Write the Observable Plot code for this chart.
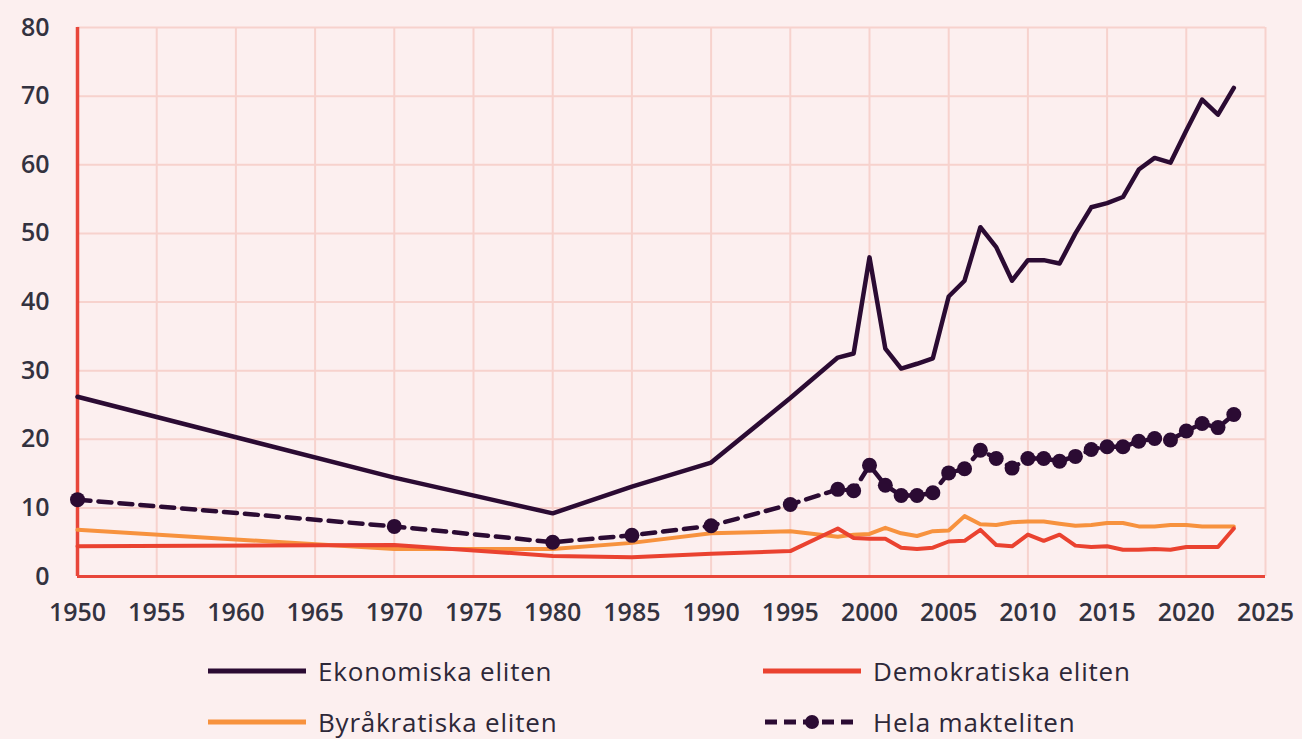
<!DOCTYPE html>
<html><head><meta charset="utf-8">
<script src="https://cdn.jsdelivr.net/npm/d3@7"></script>
<script src="https://cdn.jsdelivr.net/npm/@observablehq/plot@0.6"></script>
<style>
html,body{margin:0;padding:0;background:#fcefef;width:1302px;height:739px;overflow:hidden;font-family:"Open Sans",sans-serif;}
#chart{position:absolute;left:0;top:0;}
.leg{position:absolute;display:flex;align-items:center;font-size:26px;letter-spacing:0.8px;font-weight:500;color:#2e2838;white-space:nowrap;}
.leg svg{margin-right:12px;display:block}
</style></head><body>
<div id="chart"></div>
<div id="legend"></div>
<script>
const years = [1950,1970,1980,1985,1990,1995,1998,1999,2000,2001,2002,2003,2004,2005,2006,2007,2008,2009,2010,2011,2012,2013,2014,2015,2016,2017,2018,2019,2020,2021,2022,2023];
const ekonomiska = [26.2,14.4,9.2,13.1,16.6,26.0,31.9,32.5,46.5,33.2,30.3,31.0,31.8,40.8,43.1,50.9,48.0,43.1,46.1,46.1,45.6,50.0,53.8,54.4,55.3,59.3,61.0,60.3,65.0,69.5,67.3,71.2];
const demokratiska = [4.4,4.6,3.0,2.8,3.3,3.7,7.0,5.6,5.5,5.5,4.2,4.0,4.2,5.1,5.2,6.8,4.6,4.4,6.1,5.2,6.1,4.5,4.3,4.4,3.9,3.9,4.0,3.9,4.3,4.3,4.3,7.0];
const byrakratiska = [6.8,4.0,4.0,4.9,6.3,6.6,5.8,6.1,6.2,7.1,6.3,5.9,6.6,6.7,8.8,7.6,7.5,7.9,8.0,8.0,7.7,7.4,7.5,7.8,7.8,7.3,7.3,7.5,7.5,7.3,7.3,7.3];
const hela = [11.2,7.3,5.0,6.0,7.4,10.5,12.7,12.5,16.2,13.3,11.8,11.8,12.2,15.1,15.7,18.4,17.2,15.8,17.2,17.2,16.8,17.5,18.5,18.9,18.9,19.7,20.1,19.9,21.2,22.3,21.7,23.6];
const seriesNames = ["Ekonomiska eliten","Demokratiska eliten","Byråkratiska eliten","Hela makteliten"];
const colors = ["#2b0b33","#ea4230","#f7923e","#2b0b33"];
const xTicks = d3.range(1950, 2026, 5);
const yTicks = d3.range(0, 81, 10);

const toRows = arr => years.map((year, i) => ({year, value: arr[i]}));
const dE = toRows(ekonomiska), dD = toRows(demokratiska), dB = toRows(byrakratiska), dH = toRows(hela);

const gridColor = "#f7d2cd";
const axisRed = "#e8463a";
const chart = Plot.plot({
  width: 1302, height: 640,
  marginLeft: 77, marginRight: 37, marginTop: 27, marginBottom: 64,
  style: {background: "transparent", fontFamily: "'Open Sans', sans-serif", fontSize: "25px", color: "#33323f"},
  x: {domain: [1950, 2025]},
  y: {domain: [0, 80]},
  marks: [
    Plot.gridX(xTicks, {stroke: gridColor, strokeOpacity: 1, strokeWidth: 2}),
    Plot.gridY(yTicks, {stroke: gridColor, strokeOpacity: 1, strokeWidth: 2}),
    Plot.axisX(xTicks, {tickSize: 0, tickPadding: 27, tickFormat: d => String(d), fontSize: 25, fontWeight: 600, fill: "#33323f", label: null}),
    Plot.axisY(yTicks, {tickSize: 0, tickPadding: 28, fontSize: 25, fontWeight: 600, fill: "#33323f", label: null}),
    Plot.ruleY([0], {x1: 1950, x2: 2025, stroke: axisRed, strokeWidth: 3}),
    Plot.ruleX([1950], {y1: 0, y2: 80, stroke: axisRed, strokeWidth: 3.5}),
    Plot.line(dB, {x: "year", y: "value", stroke: colors[2], strokeWidth: 4}),
    Plot.line(dD, {x: "year", y: "value", stroke: colors[1], strokeWidth: 4}),
    Plot.line(dH, {x: "year", y: "value", stroke: colors[3], strokeWidth: 4.5, strokeDasharray: "13,8"}),
    Plot.dot(dH, {x: "year", y: "value", r: 7.5, fill: colors[3], stroke: "none"}),
    Plot.line(dE, {x: "year", y: "value", stroke: colors[0], strokeWidth: 4.5})
  ]
});
document.getElementById("chart").appendChild(chart);

// legend
const legPos = [
  {left: 208, top: 671}, {left: 763, top: 671},
  {left: 208, top: 722}, {left: 763, top: 722}
];
const legend = document.getElementById("legend");
[0,1,2,3].forEach((k, i) => {
  const div = document.createElement("div");
  div.className = "leg";
  div.style.left = legPos[i].left + "px";
  div.style.top = (legPos[i].top - 18) + "px";
  div.style.height = "36px";
  const sw = d3.create("svg").attr("width", 98).attr("height", 16);
  if (k === 3) {
    sw.append("line").attr("x1", 2).attr("x2", 96).attr("y1", 8).attr("y2", 8)
      .attr("stroke", colors[k]).attr("stroke-width", 5).attr("stroke-dasharray", "12,7");
    sw.append("circle").attr("cx", 49).attr("cy", 8).attr("r", 7).attr("fill", colors[k]);
  } else {
    sw.append("line").attr("x1", 0).attr("x2", 98).attr("y1", 8).attr("y2", 8)
      .attr("stroke", colors[k]).attr("stroke-width", 5);
  }
  div.appendChild(sw.node());
  const sp = document.createElement("span");
  sp.textContent = seriesNames[k];
  div.appendChild(sp);
  legend.appendChild(div);
});
</script>
</body></html>
